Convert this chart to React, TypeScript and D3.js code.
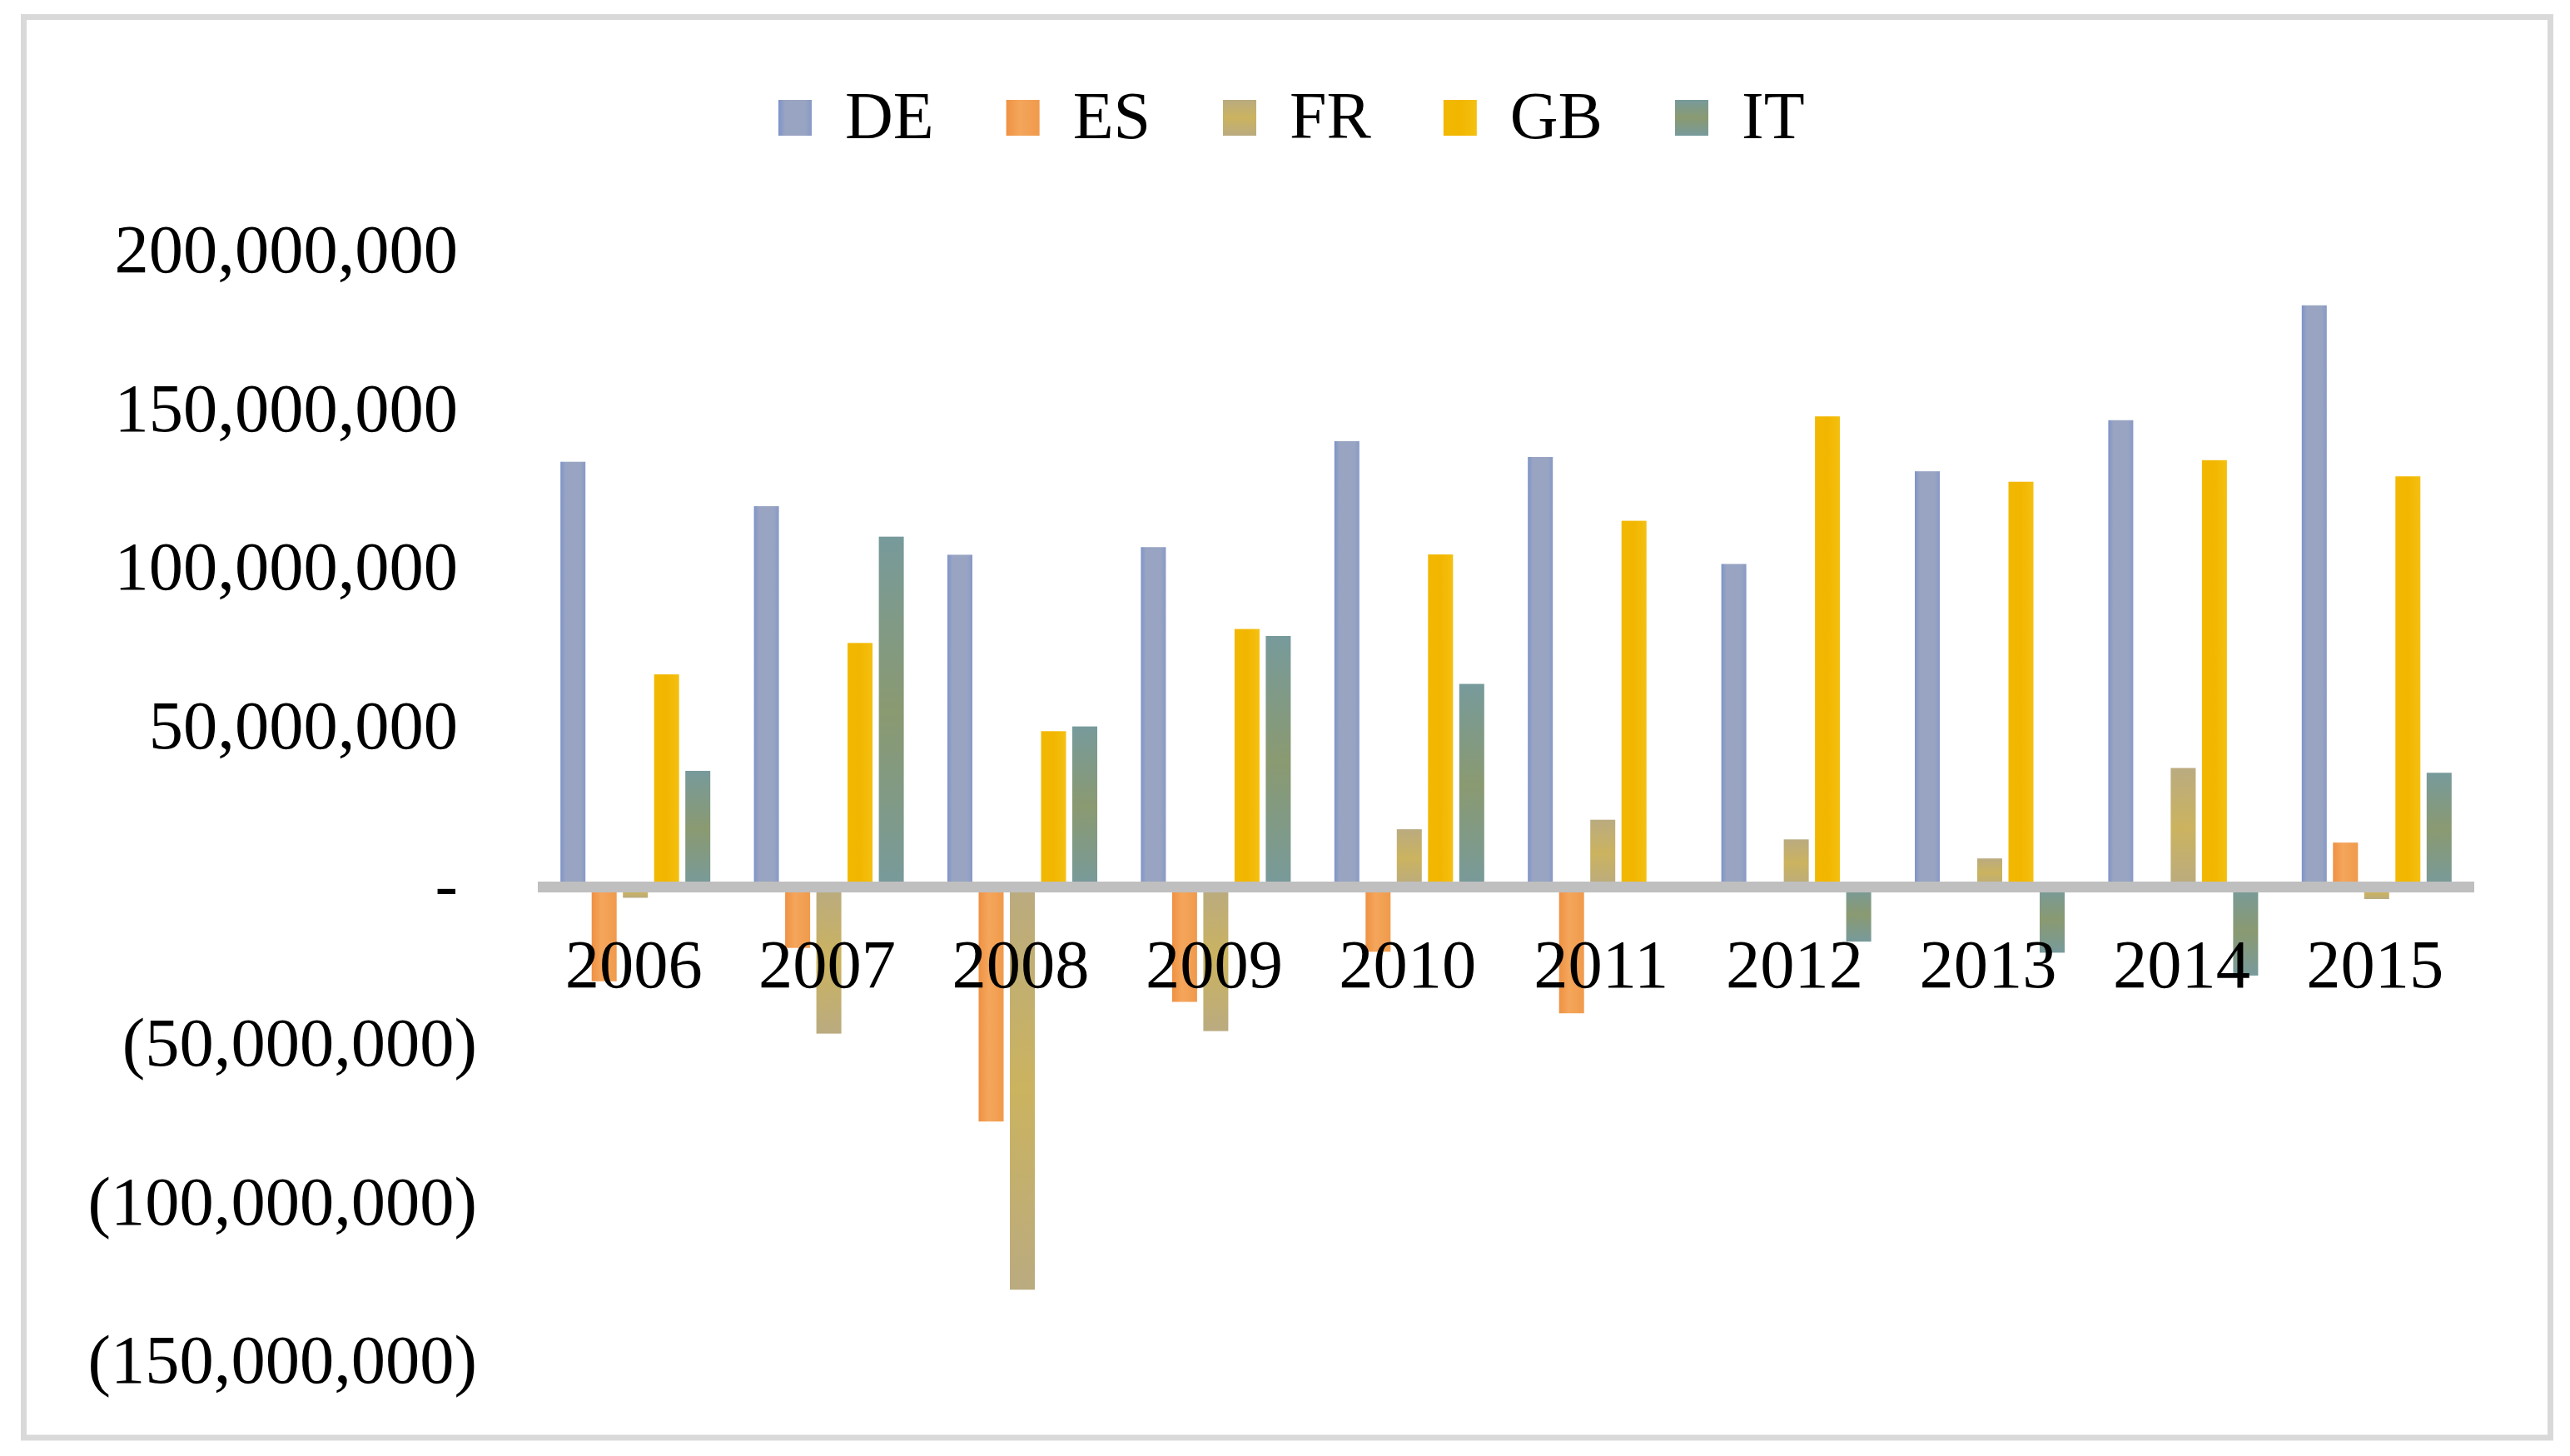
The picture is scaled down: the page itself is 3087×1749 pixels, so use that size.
import React from "react";
import * as d3 from "d3";

const years = ["2006", "2007", "2008", "2009", "2010", "2011", "2012", "2013", "2014", "2015"];
const seriesNames = ["DE", "ES", "FR", "GB", "IT"];

const DE = [134.0, 120.0, 104.7, 107.1, 140.5, 135.5, 101.8, 131.0, 147.1, 183.3];
const ES = [-29.7, -19.2, -73.9, -36.2, -20.4, -39.8, 0, 0, 0, 14.0];
const FR = [-3.4, -46.2, -126.9, -45.4, 18.2, 21.2, 15.0, 9.0, 37.5, -3.8];
const GB = [67.0, 76.9, 49.1, 81.3, 104.8, 115.4, 148.3, 127.7, 134.5, 129.4];
const IT = [36.6, 110.4, 50.6, 79.1, 64.0, 0, -17.2, -20.7, -27.9, 36.0];

const yTicks = [-150000000, -100000000, -50000000, 0, 50000000, 100000000, 150000000, 200000000];

const seriesValues: Record<string, number[]> = { DE, ES, FR, GB, IT };

const W = 3087;
const H = 1749;
const FONT = "'Liberation Serif', 'Times New Roman', serif";

const gradients: Record<string, { dir: "h" | "v"; stops: [number, string][] }> = {
  DE: { dir: "h", stops: [[0, "#7d93c9"], [0.2, "#98a4c2"], [0.8, "#98a4c2"], [1, "#8799c6"]] },
  ES: { dir: "h", stops: [[0, "#ef9144"], [0.4, "#f4a65b"], [1, "#f09a4c"]] },
  FR: { dir: "v", stops: [[0, "#baab80"], [0.5, "#cbb35f"], [1, "#baab80"]] },
  GB: { dir: "h", stops: [[0, "#f2b800"], [0.5, "#f2b600"], [1, "#f4c010"]] },
  IT: { dir: "v", stops: [[0, "#779a9b"], [0.5, "#8a9a71"], [1, "#779a9b"]] },
};

function measure(text: string, size: number): number {
  const c = document.createElement("canvas");
  const ctx = c.getContext("2d");
  if (!ctx) return text.length * size * 0.6;
  ctx.font = `${size}px 'Liberation Serif', 'Times New Roman', serif`;
  return ctx.measureText(text).width;
}

export default function App() {
  const zeroY = 1065.5;
  const step50 = 190.6;
  const y = d3
    .scaleLinear()
    .domain([-150000000, 200000000])
    .range([zeroY + 3 * step50, zeroY - 4 * step50]);

  const x0 = d3.scaleBand<string>().domain(years).range([647, 2971]).padding(0);
  const bw = x0.bandwidth();
  const inner = 180;
  const x1 = d3
    .scaleBand<string>()
    .domain(seriesNames)
    .range([(bw - inner) / 2, (bw + inner) / 2])
    .paddingInner(0.2)
    .paddingOuter(0);

  const fmt = d3.format(",");
  const label = (v: number) => (v === 0 ? "-" : v > 0 ? fmt(v) : `(${fmt(-v)})`);

  // legend layout
  const legendFont = 80;
  const swW = 40;
  const swH = 43;
  let lx = 935;
  const legendItems = seriesNames.map((s) => {
    const tw = measure(s, legendFont);
    const item = { s, sx: lx, tx: lx + 80 };
    lx = lx + 80 + tw + 87;
    return item;
  });

  return (
    <div style={{ position: "absolute", left: 0, top: 0 }}>
      <svg width={W} height={H} style={{ display: "block" }} fontFamily={FONT}>
        <defs>
          {seriesNames.map((s) => {
            const g = gradients[s];
            return (
              <linearGradient
                key={s}
                id={`g-${s}`}
                x1="0"
                y1="0"
                x2={g.dir === "h" ? "1" : "0"}
                y2={g.dir === "v" ? "1" : "0"}
              >
                {g.stops.map(([o, c], i) => (
                  <stop key={i} offset={o} stopColor={c} />
                ))}
              </linearGradient>
            );
          })}
        </defs>
        <rect x={0} y={0} width={W} height={H} fill="#ffffff" />
        <rect x={28.5} y={20.5} width={3035} height={1706.5} fill="#ffffff" stroke="#d9d9d9" strokeWidth={7} />

        {/* legend */}
        {legendItems.map((it) => (
          <g key={it.s}>
            <rect x={it.sx} y={120} width={swW} height={swH} fill={`url(#g-${it.s})`} />
            <text x={it.tx} y={166} fontSize={legendFont} fill="#000">
              {it.s}
            </text>
          </g>
        ))}

        {/* y axis labels */}
        {yTicks.map((t) => (
          <text
            key={t}
            x={t < 0 ? 573 : 550}
            y={y(t) + 24}
            fontSize={82.5}
            textAnchor="end"
            fill="#000"
          >
            {label(t)}
          </text>
        ))}

        {/* bars */}
        {years.map((yr, i) => (
          <g key={yr} transform={`translate(${x0(yr)},0)`}>
            {seriesNames.map((s) => {
              const v = seriesValues[s][i] * 1e6;
              if (v === 0) return null;
              const y0 = y(0);
              const yv = y(v);
              return (
                <rect
                  key={s}
                  x={x1(s)}
                  y={Math.min(y0, yv)}
                  width={x1.bandwidth()}
                  height={Math.abs(yv - y0)}
                  fill={`url(#g-${s})`}
                />
              );
            })}
          </g>
        ))}

        {/* zero axis line */}
        <line x1={646} x2={2972} y1={y(0)} y2={y(0)} stroke="#bfbfbf" strokeWidth={13} />

        {/* x labels */}
        {years.map((yr) => (
          <text
            key={yr}
            x={(x0(yr) as number) + bw / 2 - 2}
            y={1186}
            fontSize={82.5}
            textAnchor="middle"
            fill="#000"
          >
            {yr}
          </text>
        ))}
      </svg>
    </div>
  );
}
